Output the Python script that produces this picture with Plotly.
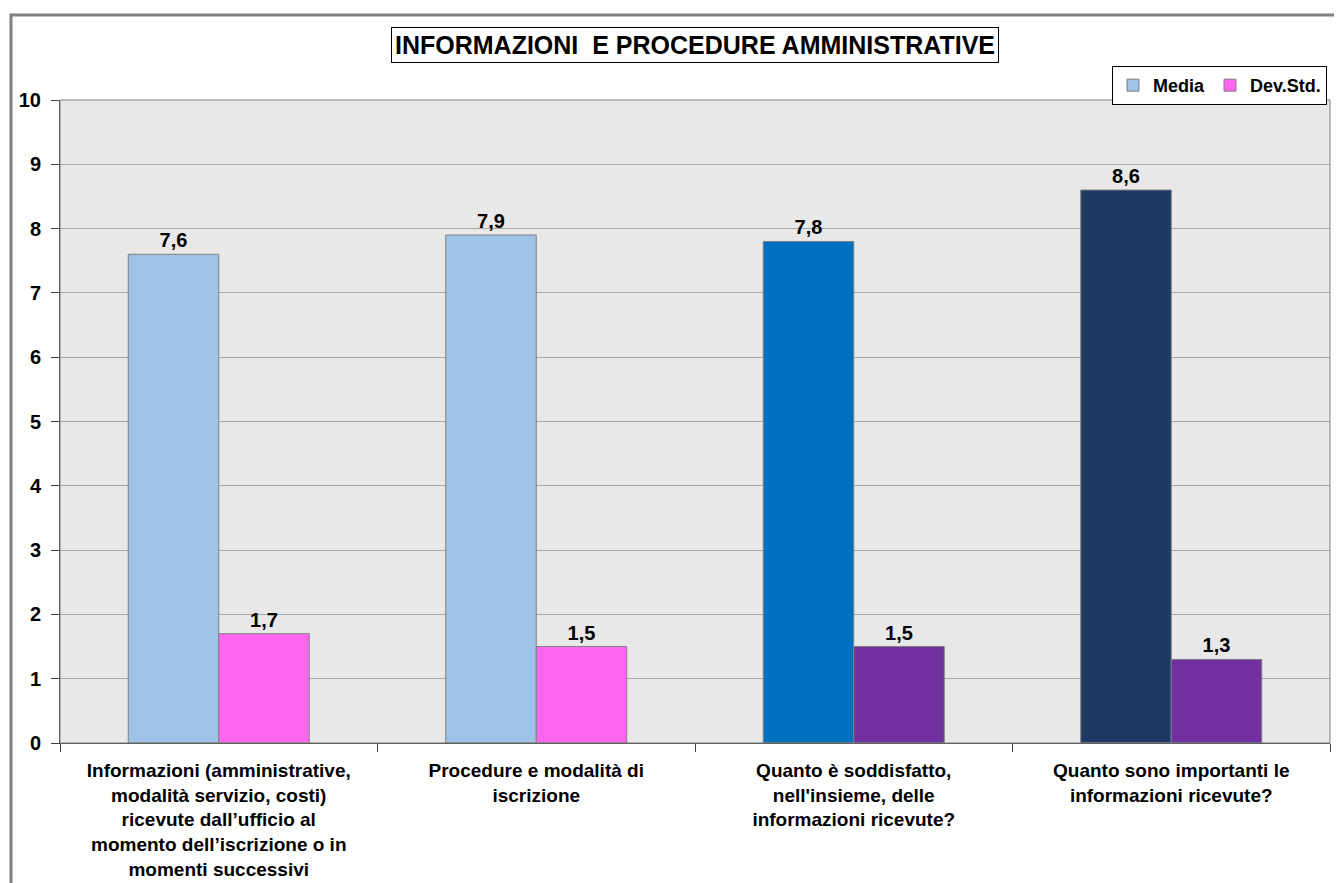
import plotly.graph_objects as go

categories = [
    "Informazioni (amministrative,<br>modalità servizio, costi)<br>ricevute dall’ufficio al<br>momento dell’iscrizione o in<br>momenti successivi",
    "Procedure e modalità di<br>iscrizione",
    "Quanto è soddisfatto,<br>nell'insieme, delle<br>informazioni ricevute?",
    "Quanto sono importanti le<br>informazioni ricevute?",
]
media = [7.6, 7.9, 7.8, 8.6]
dev_std = [1.7, 1.5, 1.5, 1.3]
media_colors = ["#9DC3E6", "#9DC3E6", "#0070C0", "#1F3864"]
dev_colors = ["#FF66EE", "#FF66EE", "#7030A0", "#7030A0"]
y_ticks = list(range(0, 11))

FONT = "Liberation Sans, Arial, sans-serif"
x_pos = list(range(len(categories)))

# page has an 8px body margin, so the figure sits at (8, 8)
W, H = 1334, 875
L, R, T, B = 52, 12, 92, 140
PW, PH = W - L - R, H - T - B

fig = go.Figure()
fig.add_trace(go.Bar(
    x=x_pos, y=media, name="Media",
    marker=dict(color=media_colors, line=dict(color="#7F7F7F", width=1)),
    texttemplate="%{y:.1f}", textposition="outside",
    textfont=dict(family=FONT, size=20, color="black", weight="bold"),
    cliponaxis=False,
))
fig.add_trace(go.Bar(
    x=x_pos, y=dev_std, name="Dev.Std.",
    marker=dict(color=dev_colors, line=dict(color="#7F7F7F", width=1)),
    texttemplate="%{y:.1f}", textposition="outside",
    textfont=dict(family=FONT, size=20, color="black", weight="bold"),
    cliponaxis=False,
))
# invisible trace to carry the boundary ticks on the overlaid axis
fig.add_trace(go.Scatter(x=[-0.5, 3.5], y=[0, 0], xaxis="x2", mode="none",
                         showlegend=False, hoverinfo="skip"))

fig.update_layout(
    width=W, height=H,
    margin=dict(l=L, r=R, t=T, b=B, autoexpand=False),
    paper_bgcolor="white",
    plot_bgcolor="#E8E8E8",
    separators=", ",
    barmode="group",
    bargap=0.43,
    bargroupgap=0,
    font=dict(family=FONT, size=16, color="black"),
    xaxis=dict(
        range=[-0.5, 3.5], tickvals=x_pos, ticktext=categories,
        ticks="", showgrid=False, showline=True, linecolor="#404040",
        linewidth=1, mirror=False, ticklabelstandoff=10, automargin=False,
        tickfont=dict(family=FONT, size=19, color="black", weight="bold"),
    ),
    xaxis2=dict(
        overlaying="x", matches="x", range=[-0.5, 3.5],
        tickvals=[-0.5, 0.5, 1.5, 2.5, 3.5], ticks="outside", ticklen=8,
        tickcolor="#404040", showticklabels=False, showgrid=False,
        showline=False, zeroline=False, automargin=False,
    ),
    yaxis=dict(
        range=[0, 10], tickvals=y_ticks, ticks="outside", ticklen=8,
        tickcolor="#404040", showline=True, linecolor="#404040", linewidth=1,
        gridcolor="#A6A6A6", gridwidth=1, zeroline=False,
        ticklabelstandoff=6, automargin=False,
        tickfont=dict(family=FONT, size=20, color="black", weight="bold"),
    ),
    legend=dict(
        orientation="h", x=1 - 3 / PW, xanchor="right",
        y=1 + (T - 58) / PH, yanchor="top",
        bgcolor="white", bordercolor="black", borderwidth=1,
        font=dict(family=FONT, size=18, color="black", weight="bold"),
        itemwidth=30, tracegroupgap=0,
    ),
    showlegend=True,
    annotations=[dict(
        text="INFORMAZIONI  E PROCEDURE AMMINISTRATIVE",
        xref="paper", yref="paper", x=(687 - L) / PW, y=1 + (T - 37) / PH,
        xanchor="center", yanchor="middle", showarrow=False,
        font=dict(family=FONT, size=25, color="black", weight="bold"),
        bordercolor="black", borderwidth=1, borderpad=3, bgcolor="white",
    )],
    shapes=[
        # plot area frame
        dict(type="rect", xref="paper", yref="paper", x0=0, x1=1, y0=0, y1=1,
             line=dict(color="#808080", width=1), layer="above"),
        # outer chart frame
        dict(type="rect", xref="paper", yref="paper",
             x0=(3 - L) / PW, x1=1.1, y0=-0.5, y1=1 + (T - 7) / PH,
             line=dict(color="#808080", width=3), layer="below"),
    ],
)

fig.write_html("out.html")
